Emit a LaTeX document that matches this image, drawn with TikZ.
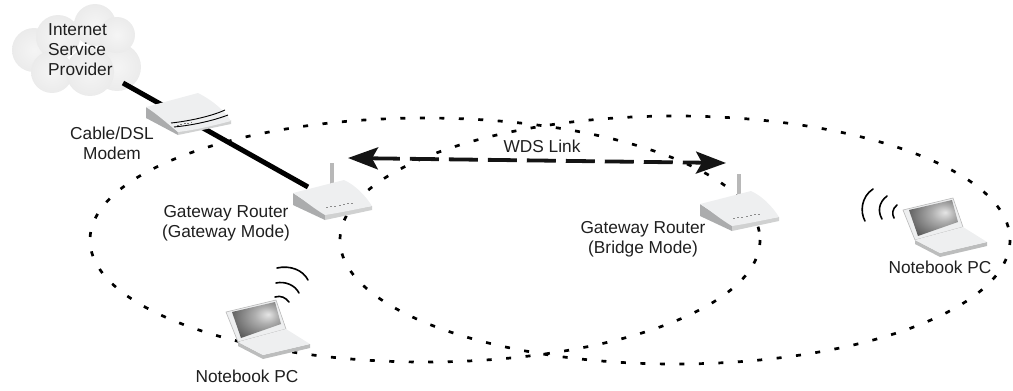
\documentclass[tikz,border=0pt]{standalone}
\usepackage{fontspec}
\setmainfont{Liberation Sans}
\usetikzlibrary{arrows.meta}
\pgfdeclareradialshading{puff}{\pgfpoint{0bp}{0bp}}{color(0bp)=(white!96!black); color(26bp)=(white!92!black); color(50bp)=(white!74!black)}
\pgfdeclareradialshading{lcd}{\pgfpoint{12bp}{8bp}}{color(0bp)=(white!90!black); color(12bp)=(white!68!black); color(38bp)=(white!30!black); color(70bp)=(white!18!black)}
\definecolor{casetop}{HTML}{EEEFF0}
\definecolor{caseside}{HTML}{ABACAD}
\definecolor{casestrip}{HTML}{D0D1D1}
\tikzset{
  x=1pt,y=-1pt,
  lbl/.style={font=\fontsize{17.3}{20}\selectfont,text=black!88,inner sep=0pt,align=center},
  zone/.style={line width=2.7pt,black,dash pattern=on 5pt off 14.5pt},
  wire/.style={line width=5pt,black},
  wds/.style={line width=3.8pt,black!92,dash pattern=on 29pt off 10pt,
    {Stealth[length=30pt,width=22pt,inset=6pt]}-{Stealth[length=30pt,width=22pt,inset=6pt]}},
  wave/.style={line width=1.6pt,black,line cap=round},
  puffball/.style={circle,shading=puff,draw=none,inner sep=0pt},
  pics/router/.style={code={
    \fill[white!72!black] (36.5,-30) rectangle (40.5,2);
    \fill[caseside] (0,0) -- (0,12) -- (32,27) -- (32,21) -- cycle;
    \fill[casestrip] (32,21) -- (79,13) -- (79,17) -- (32,27) -- cycle;
    \fill[casetop] (0,0) .. controls (20,-5) and (35,-9) .. (51,-13) .. controls (62,-8) and (72,2) .. (79,13) .. controls (60,17) and (45,20) .. (32,22) .. controls (20,15) and (10,6) .. (0,0) -- cycle;
    \foreach \i in {0,...,6} \fill[black!45] (33+\i*4.2,14.2-\i*0.75) rectangle ++(2,1);
  }},
  pics/laptop/.style={code={
    \fill[casetop,draw=white!72!black,line width=.6pt] (0,0) -- (50,-12) -- (60,17) -- (12,30) -- cycle;
    \path[shading=lcd] (6,0) -- (49,-10) -- (55,12) -- (15,26) -- cycle;
    \fill[caseside!80!white] (12,30) -- (12,34) -- (37,47) -- (84,36) -- (84,32) -- (37,43) -- cycle;
    \fill[casetop] (12,30) -- (60,17) -- (84,32) -- (37,43) -- cycle;
  }}
}
\begin{document}
\begin{tikzpicture}
\useasboundingbox (0,0) rectangle (1013,391);
% coverage zones
\coordinate (zoneA) at (425,240);
\coordinate (zoneB) at (675,240);
\draw[zone] (zoneA) ellipse [x radius=335,y radius=122];
\draw[zone] (zoneB) ellipse [x radius=335,y radius=124];
% cloud
\node[puffball,minimum size=44pt] at (34,50) {};
\node[puffball,minimum size=42pt] at (95,25) {};
\node[puffball,minimum size=44pt] at (58,37) {};
\node[puffball,minimum size=48pt] at (117,67) {};
\node[puffball,minimum size=42pt] at (52,72) {};
\node[puffball,minimum size=48pt] at (90,72) {};
\node[puffball,minimum size=36pt] at (117,35) {};
\node[lbl,align=left,anchor=west] (isp) at (48,50) {Internet\\Service\\Provider};
% links
\coordinate (ispport) at (123,83);
\coordinate (modemport) at (187,119);
\coordinate (gwport) at (308,187);
\draw[wire] (ispport) -- (modemport);
\draw[wire] (modemport) -- (gwport);
% modem
\fill[caseside] (146,107) -- (146,118) -- (178,135) -- (177,124) -- cycle;
\fill[casestrip] (177,124) -- (231,120) -- (231,124) -- (178,135) -- cycle;
\fill[casetop] (146,107) -- (198,93) .. controls (212,100) and (224,110) .. (231,121) .. controls (212,126) and (195,130) .. (178,132) .. controls (168,124) and (157,114) .. (146,107) -- cycle;
\draw[black,line width=.9pt] (171,123) .. controls (190,121) and (212,116) .. (225,110);
\draw[black,line width=.9pt] (174,127) .. controls (195,125) and (215,120) .. (228,115);
\foreach \i in {0,...,4} \fill[black!55] (177+\i*3.4,124.5-\i*.6) rectangle ++(1.8,1);
% routers and laptops
\pic at (293,193) {router};
\pic at (700,204) {router};
\pic at (903,210) {laptop};
\pic at (226,312) {laptop};
% WDS link
\coordinate (wdsL) at (348,158);
\coordinate (wdsR) at (726,163);
\draw[wds] (wdsL) -- (wdsR);
% radio waves
\draw[wave] (873,189) .. controls (861,197) and (860,212) .. (865,221);
\draw[wave] (887,196) .. controls (878,203) and (878,212) .. (882,219);
\draw[wave] (897,205) .. controls (892,209) and (892,214) .. (894,218);
\draw[wave] (277,268) .. controls (290,265) and (303,270) .. (308,280);
\draw[wave] (276,283) .. controls (285,281) and (295,285) .. (299,293);
\draw[wave] (275,297) .. controls (281,295) and (286,298) .. (289,302);
% labels
\node[lbl] (modemlabel) at (112,143) {Cable/DSL\\Modem};
\node[lbl] (gwlabel) at (226,223) {Gateway Router\\(Gateway Mode)};
\node[lbl] (brlabel) at (643,239) {Gateway Router\\(Bridge Mode)};
\node[lbl] (nbright) at (940,267) {Notebook PC};
\node[lbl] (nbleft) at (247,376) {Notebook PC};
\node[lbl] (wdslabel) at (542,146) {WDS Link};
\end{tikzpicture}
\end{document}
